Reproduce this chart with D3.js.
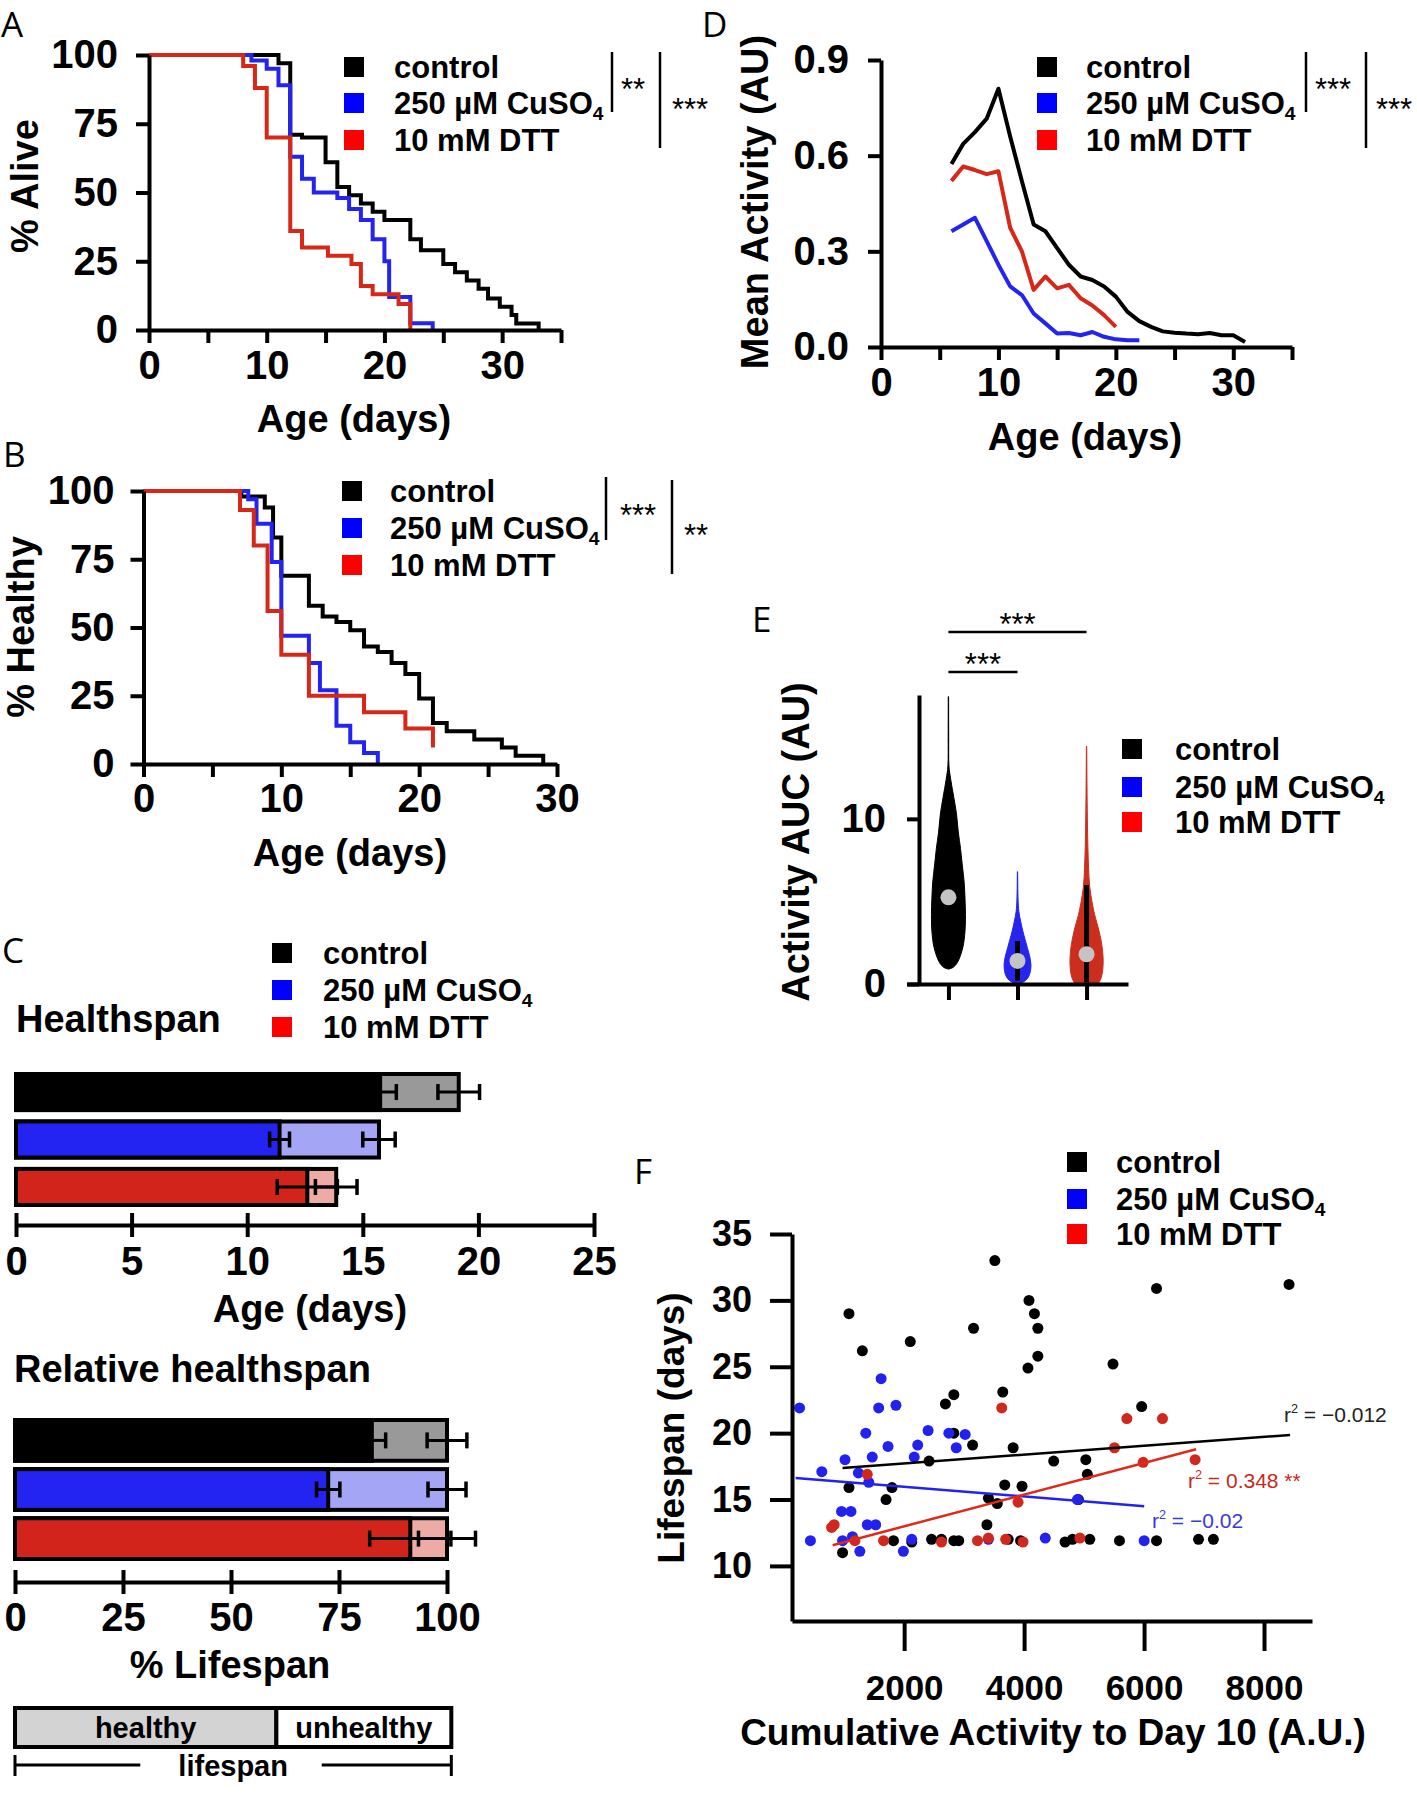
<!DOCTYPE html>
<html>
<head>
<meta charset="utf-8">
<script src="https://cdn.jsdelivr.net/npm/d3@7"></script>
<style>
  body { margin: 0; background: #fff; }
</style>
</head>
<body>
<div id="container"></div>
<script>
let w = 1417;
let h = 1800;

// groups + colours
let groups = ["control", "250 µM CuSO4", "10 mM DTT"];
let legendColors = ["#000000", "#0000ff", "#ff0000"];
let lineColors = ["#000000", "#2424f0", "#d62818"];
let darkBar = ["#000000", "#2323f2", "#d2241a"];
let lightBar = ["#999999", "#a5a5f5", "#eeaaa5"];

// A: % alive  [day, %]
let aliveControl = [[0,100],[11,97],[12,71],[13,70],[15,61],[16,52],[17,49],[18,46],[19,43],[20,40],[22.2,33],[23.1,29],[25,24],[26,21],[27,18],[28,15],[28.8,11.5],[29.8,8.5],[30.8,5.5],[31.2,2.4],[33.1,0]];
let aliveCu = [[0,100],[8.7,98],[10,95],[11,89],[12,63],[13,55],[14,50],[16,48],[17,44],[18,40],[19,33],[20,25],[20.4,12],[22.2,2.5],[24.1,0]];
let aliveDtt = [[0,100],[8,96],[9,88],[10,70],[12,36],[13,30],[15.2,27],[17.2,24],[18,16],[19,13],[21.2,9.5],[22.2,0]];

// B: % healthy  [day, %]
let healthyControl = [[0,100],[7.1,98],[8.8,94],[9.4,83],[10,69],[12,58],[13,54],[14,52],[15,49],[16,43],[17,41],[18,37],[19,33],[20,24],[21,15],[22,12],[24,9],[26,6],[27,3],[29,0]];
let healthyCu = [[0,100],[7.6,97],[8.2,88],[9.3,74],[10,47],[12,37],[12.8,27],[14,14],[15,8],[16,4],[17,0]];
let healthyDtt = [[0,100],[7,93],[8,80],[9,56],[10,40],[12,25],[16,19],[19,13],[21,6]];

// C: healthspan / lifespan (days) and relative (% lifespan)
let healthspan = [15.75, 11.4, 12.6];
let healthspanSem = [0.7, 0.43, 1.3];
let lifespan = [19.15, 15.7, 13.85];
let lifespanSem = [0.9, 0.7, 0.9];
let relHealthy = [82.6, 72.5, 91.5];
let relHealthySem = [3.2, 2.7, 9.4];
let relLifespan = [100, 100, 100];
let relLifespanSem = [4.6, 4.4, 6.6];
let schematicSplit = 60.5;

// D: mean activity by day
let actDaysControl = [6,7,8,9,10,11,12,13,14,15,16,17,18,19,20,21,22,23,24,25,26,27,28,29,30,31];
let actControl = [0.574,0.637,0.674,0.716,0.81,0.66,0.52,0.384,0.363,0.31,0.258,0.221,0.21,0.19,0.158,0.11,0.081,0.063,0.049,0.045,0.042,0.04,0.044,0.037,0.037,0.016];
let actDaysCu = [6,7,8,9,10,11,12,13,14,15,16,17,18,19,20,21,22];
let actCu = [0.363,0.384,0.405,0.332,0.258,0.19,0.163,0.105,0.074,0.042,0.044,0.037,0.047,0.032,0.024,0.021,0.021];
let actDaysDtt = [6,7,8,9,10,11,12,13,14,15,16,17,18,19,20];
let actDtt = [0.521,0.566,0.555,0.542,0.551,0.374,0.30,0.179,0.221,0.184,0.195,0.153,0.13,0.10,0.063];

// E: violin outlines [AUC, half width], inner box, medians
let violinControl = [[0.9,0],[1.0,10],[1.3,20],[2.2,32],[3.2,37],[4.2,38],[5.2,37],[6.2,35],[7.2,31],[8.2,27],[9.2,22],[10.3,18],[11.3,12],[12.4,5],[13.2,1.2],[15,0.6],[17.4,0.4]];
let violinCu = [[0,0],[0.1,12],[0.4,24],[0.8,29],[1.2,30],[1.7,27],[2.2,22],[2.7,17],[3.2,12],[3.8,7],[4.4,3],[5.2,1.2],[6.8,0.4]];
let violinDtt = [[0,26],[0.4,33],[1.2,37],[2.2,35],[3.2,28],[4.2,18],[5,12],[5.9,7],[7,4.5],[8.3,3],[10,1.8],[12,1],[14.4,0.4]];
let boxLow = [1.5, 0.2, 0.1];
let boxHigh = [7.5, 2.6, 6.0];
let medians = [5.25, 1.4, 1.8];

// F: cumulative activity vs lifespan
let fControlX = [3512,6208,8417,1080,4081,4172,4229,3157,2102,1303,4229,4064,5482,3644,2828,2688,5960,2828,3141,3817,2415,4493,5029,5054,1080,1797,1698,3677,3965,3405,3553,4905,3380,973,1822,2127,2457,2622,2828,2910,3735,3941,4683,4806,5095,5590,6208,6908,7156];
let fControlY = [33.0,30.9,31.2,29.0,30.0,29.0,27.9,27.9,26.9,26.2,25.8,24.9,25.2,23.1,22.9,22.2,22.0,20.0,19.1,18.9,17.9,17.9,18.0,16.9,15.9,15.9,15.0,16.1,16.0,15.1,14.7,15.0,13.1,11.0,11.9,11.8,12.0,12.0,11.9,11.9,12.0,11.9,11.8,12.0,12.0,11.9,11.9,12.0,12.0];
let fCuX = [256,1616,1575,1863,1360,1731,2399,2745,3017,2226,2869,1014,1468,2168,627,1237,1410,956,1113,1385,1525,4889,437,973,1138,2127,3405,4353,6002,1261,1987];
let fCuY = [21.9,24.1,21.9,22.1,20.0,19.0,20.2,20.0,19.9,19.1,18.9,18.0,18.2,18.2,17.1,17.0,16.3,14.1,14.1,13.1,13.1,15.0,11.9,11.9,12.2,12.0,12.0,12.1,11.9,11.1,11.1];
let fDttX = [3627,5713,6307,5507,5985,6851,1385,3899,833,791,1179,1657,2622,3223,3405,3693,3982,4930];
let fDttY = [21.9,21.1,21.1,18.9,17.8,18.0,16.9,14.8,13.1,12.9,11.9,11.9,11.8,11.9,12.1,12.0,11.8,12.1];
let fitSlope = [0.000334, -0.000365, 0.001193];
let fitIntercept = [17.045, 16.69, 10.596];
let fitFrom = [973, 190, 808];
let fitTo = [8434, 6002, 6867];
let fitLabels = ["= \u22120.012", "= \u22120.02", "= 0.348 **"];
let fitLabelColors = ["#222222", "#3a3ad8", "#c8281c"];

let fontMain = "'Liberation Sans', Arial, Helvetica, sans-serif";
let fontLetter = "'Open Sans', 'DejaVu Sans', sans-serif";
let tickFont = 40;
let titleFont = 38;
let legendFont = 31;

let svg = d3.select("#container")
  .append("svg")
    .attr("width", w)
    .attr("height", h)
    .style("background", "#fff")
;

function styleAxis(g, size){
  g.attr("font-family", null).attr("font-size", null);
  g.select(".domain").attr("stroke", "#000").attr("stroke-width", 4);
  g.selectAll(".tick line").attr("stroke", "#000").attr("stroke-width", 4);
  g.selectAll(".tick text")
    .attr("fill", "#000")
    .attr("font-family", fontMain)
    .attr("font-weight", "bold")
    .attr("font-size", size);
}

function addText(str, x, y, size, opts){
  opts = opts || {};
  let t = svg.append("text")
    .attr("x", x).attr("y", y)
    .attr("font-family", opts.family || fontMain)
    .attr("font-weight", opts.weight || "bold")
    .attr("font-size", size)
    .attr("fill", opts.fill || "#000")
    .attr("text-anchor", opts.anchor || "start")
    .text(str);
  return t;
}

function addRotText(str, x, y, size){
  svg.append("text")
    .attr("transform", "translate(" + x + "," + y + ") rotate(-90)")
    .attr("font-family", fontMain)
    .attr("font-weight", "bold")
    .attr("font-size", size)
    .attr("text-anchor", "middle")
    .text(str);
}

function panelLetter(str, x, y){
  addText(str, x, y, 35, {family: fontLetter, weight: "normal"});
}

function legendLabel(sel, name){
  if (name.endsWith("SO4")) {
    sel.text(name.slice(0, -1));
    sel.append("tspan").attr("font-size", "0.62em").attr("dy", "0.3em").text("4");
  } else {
    sel.text(name);
  }
}

function drawLegend(cx, textX, ys, size){
  groups.forEach(function(name, i){
    svg.append("rect")
      .attr("x", cx - 10).attr("y", ys[i] - 10)
      .attr("width", 20).attr("height", 20)
      .attr("fill", legendColors[i]);
    let t = svg.append("text")
      .attr("x", textX).attr("y", ys[i] + 11)
      .attr("font-family", fontMain)
      .attr("font-weight", "bold")
      .attr("font-size", size);
    legendLabel(t, name);
  });
}

function sigBar(x, y1, y2, stars, tx, ty){
  svg.append("line")
    .attr("x1", x).attr("x2", x).attr("y1", y1).attr("y2", y2)
    .attr("stroke", "#000").attr("stroke-width", 2.5);
  addText(stars, tx, ty, 31, {anchor: "middle", weight: "normal"});
}

function stepLines(xs, ys, series){
  let line = d3.line()
    .x(function(d){ return xs(d[0]); })
    .y(function(d){ return ys(d[1]); })
    .curve(d3.curveStepAfter);
  series.forEach(function(s, i){
    svg.append("path").datum(s)
      .attr("d", line)
      .attr("fill", "none")
      .attr("stroke", lineColors[i])
      .attr("stroke-width", 4);
  });
}

// ---------------- Panel A ----------------
let xA = d3.scaleLinear().domain([0, 35]).range([149, 561]);
let yA = d3.scaleLinear().domain([0, 100]).range([330, 55]);
stepLines(xA, yA, [aliveControl, aliveCu, aliveDtt]);

let xAxisA = svg.append("g").attr("transform", "translate(0,330)")
  .call(d3.axisBottom(xA).tickValues([0,5,10,15,20,25,30,35])
    .tickFormat(function(d){ return d % 10 === 0 ? d : ""; })
    .tickSize(13).tickSizeOuter(0).tickPadding(8));
styleAxis(xAxisA, tickFont);
let yAxisA = svg.append("g").attr("transform", "translate(149,0)")
  .call(d3.axisLeft(yA).tickValues([0,25,50,75,100]).tickSize(13).tickSizeOuter(0).tickPadding(18));
styleAxis(yAxisA, tickFont);

panelLetter("A", 1, 37);
addText("Age (days)", 354, 432, titleFont, {anchor: "middle"});
addRotText("% Alive", 38, 186, titleFont);
drawLegend(354, 394, [67, 103, 140], legendFont);
sigBar(612, 52, 112, "**", 633, 100);
sigBar(660, 52, 148, "***", 690, 120);

// ---------------- Panel B ----------------
let xB = d3.scaleLinear().domain([0, 30]).range([143.5, 557]);
let yB = d3.scaleLinear().domain([0, 100]).range([764, 491]);
stepLines(xB, yB, [healthyControl, healthyCu, healthyDtt]);

let xAxisB = svg.append("g").attr("transform", "translate(0,764)")
  .call(d3.axisBottom(xB).tickValues([0,5,10,15,20,25,30])
    .tickFormat(function(d){ return d % 10 === 0 ? d : ""; })
    .tickSize(13).tickSizeOuter(0).tickPadding(7));
styleAxis(xAxisB, tickFont);
let yAxisB = svg.append("g").attr("transform", "translate(143.5,0)")
  .call(d3.axisLeft(yB).tickValues([0,25,50,75,100]).tickSize(13).tickSizeOuter(0).tickPadding(16));
styleAxis(yAxisB, tickFont);

panelLetter("B", 3, 467);
addText("Age (days)", 350, 866, titleFont, {anchor: "middle"});
addRotText("% Healthy", 34, 627, titleFont);
drawLegend(352, 390, [491, 528, 565], legendFont);
sigBar(606, 477, 540, "***", 638, 526);
sigBar(672, 480, 574, "**", 696, 546);

// ---------------- Panel C ----------------
function errBar(x1, x2, cy){
  svg.append("line").attr("x1", x1).attr("x2", x2).attr("y1", cy).attr("y2", cy)
    .attr("stroke", "#000").attr("stroke-width", 3);
  [x1, x2].forEach(function(x){
    svg.append("line").attr("x1", x).attr("x2", x).attr("y1", cy - 8).attr("y2", cy + 8)
      .attr("stroke", "#000").attr("stroke-width", 3.5);
  });
}

function spanBars(xs, ys, healthy, healthySem, life, lifeSem){
  groups.forEach(function(name, i){
    let y0 = ys(name);
    let bw = ys.bandwidth();
    svg.append("rect")
      .attr("x", xs(0)).attr("y", y0)
      .attr("width", xs(life[i]) - xs(0)).attr("height", bw)
      .attr("fill", lightBar[i]).attr("stroke", "#000").attr("stroke-width", 4);
    svg.append("rect")
      .attr("x", xs(0)).attr("y", y0)
      .attr("width", xs(healthy[i]) - xs(0)).attr("height", bw)
      .attr("fill", darkBar[i]).attr("stroke", "#000").attr("stroke-width", 4);
    errBar(xs(healthy[i] - healthySem[i]), xs(healthy[i] + healthySem[i]), y0 + bw / 2);
    errBar(xs(life[i] - lifeSem[i]), xs(life[i] + lifeSem[i]), y0 + bw / 2);
  });
}

let xC = d3.scaleLinear().domain([0, 25]).range([16, 594]);
let yC = d3.scaleBand().domain(groups).range([1074, 1205]).paddingInner(0.24);
spanBars(xC, yC, healthspan, healthspanSem, lifespan, lifespanSem);
let xAxisC = svg.append("g").attr("transform", "translate(0,1225)")
  .call(d3.axisBottom(xC).tickValues([0,5,10,15,20,25]).tickSize(12).tickSizeOuter(0).tickPadding(10));
styleAxis(xAxisC, tickFont);
xAxisC.selectAll(".tick line").attr("y1", -12);

panelLetter("C", 2, 963);
drawLegend(282, 323, [953, 990, 1027], legendFont);
addText("Healthspan", 16, 1032, titleFont);
addText("Age (days)", 310, 1322, titleFont, {anchor: "middle"});

let xR = d3.scaleLinear().domain([0, 100]).range([15, 447]);
let yR = d3.scaleBand().domain(groups).range([1420, 1559]).paddingInner(0.17);
spanBars(xR, yR, relHealthy, relHealthySem, relLifespan, relLifespanSem);
let xAxisR = svg.append("g").attr("transform", "translate(0,1582)")
  .call(d3.axisBottom(xR).tickValues([0,25,50,75,100]).tickSize(12).tickSizeOuter(0).tickPadding(9));
styleAxis(xAxisR, tickFont);
xAxisR.selectAll(".tick line").attr("y1", -12);

addText("Relative healthspan", 14, 1382, titleFont);
addText("% Lifespan", 230, 1678, titleFont, {anchor: "middle"});

// schematic legend healthy / unhealthy
svg.append("rect").attr("x", xR(0)).attr("y", 1708)
  .attr("width", xR(schematicSplit) - xR(0)).attr("height", 39)
  .attr("fill", "#d3d3d3").attr("stroke", "#000").attr("stroke-width", 4);
svg.append("rect").attr("x", xR(schematicSplit)).attr("y", 1708)
  .attr("width", xR(101) - xR(schematicSplit)).attr("height", 39)
  .attr("fill", "#fff").attr("stroke", "#000").attr("stroke-width", 4);
addText("healthy", (xR(0) + xR(schematicSplit)) / 2, 1738, 29, {anchor: "middle"});
addText("unhealthy", (xR(schematicSplit) + xR(101)) / 2, 1738, 29, {anchor: "middle"});
[[xR(0), xR(29)], [xR(71), xR(101)]].forEach(function(seg){
  svg.append("line").attr("x1", seg[0]).attr("x2", seg[1]).attr("y1", 1765).attr("y2", 1765)
    .attr("stroke", "#000").attr("stroke-width", 3);
});
[xR(0), xR(101)].forEach(function(x){
  svg.append("line").attr("x1", x).attr("x2", x).attr("y1", 1755).attr("y2", 1776)
    .attr("stroke", "#000").attr("stroke-width", 3);
});
addText("lifespan", (xR(0) + xR(101)) / 2, 1776, 29, {anchor: "middle"});

// ---------------- Panel D ----------------
let xD = d3.scaleLinear().domain([0, 35]).range([881, 1292]);
let yD = d3.scaleLinear().domain([0, 0.9]).range([347, 60]);
let lineD = d3.line()
  .x(function(d){ return xD(d[0]); })
  .y(function(d){ return yD(d[1]); });
[[actDaysControl, actControl], [actDaysCu, actCu], [actDaysDtt, actDtt]].forEach(function(s, i){
  svg.append("path").datum(d3.zip(s[0], s[1]))
    .attr("d", lineD)
    .attr("fill", "none")
    .attr("stroke", lineColors[i])
    .attr("stroke-width", 4)
    .attr("stroke-linejoin", "round");
});
let xAxisD = svg.append("g").attr("transform", "translate(0,347)")
  .call(d3.axisBottom(xD).tickValues([0,5,10,15,20,25,30,35])
    .tickFormat(function(d){ return d % 10 === 0 ? d : ""; })
    .tickSize(13).tickSizeOuter(0).tickPadding(8));
styleAxis(xAxisD, tickFont);
let yAxisD = svg.append("g").attr("transform", "translate(881,0)")
  .call(d3.axisLeft(yD).tickValues([0, 0.3, 0.6, 0.9]).tickFormat(d3.format(".1f"))
    .tickSize(13).tickSizeOuter(0).tickPadding(19));
styleAxis(yAxisD, tickFont);

panelLetter("D", 702, 37);
addText("Age (days)", 1085, 450, titleFont, {anchor: "middle"});
addRotText("Mean Activity (AU)", 768, 202, titleFont);
drawLegend(1047, 1086, [67, 103, 140], legendFont);
sigBar(1306, 52, 112, "***", 1333, 100);
sigBar(1366, 52, 148, "***", 1394, 120);

// ---------------- Panel E ----------------
let xE = d3.scalePoint().domain(groups).range([907, 1128]).padding(0.6);
let yE = d3.scaleLinear().domain([0, 17.5]).range([984, 695]);
let wE = d3.scaleLinear().domain([0, 38]).range([0, 17]);
let violinColors = ["#000000", "#2525ee", "#cc2e1e"];

[violinControl, violinCu, violinDtt].forEach(function(v, i){
  let cx = xE(groups[i]);
  let area = d3.area()
    .y(function(d){ return yE(d[0]); })
    .x0(function(d){ return cx - wE(d[1]); })
    .x1(function(d){ return cx + wE(d[1]); })
    .curve(d3.curveCatmullRom);
  svg.append("path").datum(v)
    .attr("d", area)
    .attr("fill", violinColors[i])
    .attr("stroke", violinColors[i])
    .attr("stroke-width", 1);
  svg.append("line")
    .attr("x1", cx).attr("x2", cx)
    .attr("y1", yE(boxLow[i])).attr("y2", yE(boxHigh[i]))
    .attr("stroke", "#000").attr("stroke-width", 5);
  svg.append("circle")
    .attr("cx", cx).attr("cy", yE(medians[i])).attr("r", 8)
    .attr("fill", "#c4c4c4");
});

let xAxisE = svg.append("g").attr("transform", "translate(0,984)")
  .call(d3.axisBottom(xE).tickFormat("").tickSize(16).tickSizeOuter(0));
styleAxis(xAxisE, tickFont);
let yAxisE = svg.append("g").attr("transform", "translate(919,0)")
  .call(d3.axisLeft(yE).tickValues([0, 10]).tickSize(12).tickSizeOuter(0).tickPadding(21));
styleAxis(yAxisE, tickFont);

panelLetter("E", 752, 632);
addRotText("Activity AUC (AU)", 809, 842, titleFont);
drawLegend(1132, 1175, [749, 787, 822], legendFont);
[[groups[0], groups[2], 632], [groups[0], groups[1], 672]].forEach(function(s){
  svg.append("line")
    .attr("x1", xE(s[0])).attr("x2", xE(s[1]))
    .attr("y1", s[2]).attr("y2", s[2])
    .attr("stroke", "#000").attr("stroke-width", 2.5);
  addText("***", (xE(s[0]) + xE(s[1])) / 2, s[2] + 3, 31, {anchor: "middle", weight: "normal"});
});

// ---------------- Panel F ----------------
let xF = d3.scaleLinear().domain([130, 8800]).range([792, 1312]);
let yF = d3.scaleLinear().domain([5.85, 35]).range([1621, 1234]);
let scatterColors = ["#000000", "#2222f0", "#d0281c"];

[[fControlX, fControlY], [fCuX, fCuY], [fDttX, fDttY]].forEach(function(s, i){
  svg.append("g").selectAll("circle")
    .data(d3.zip(s[0], s[1]))
    .enter()
    .append("circle")
      .attr("cx", function(d){ return xF(d[0]); })
      .attr("cy", function(d){ return yF(d[1]); })
      .attr("r", 5.5)
      .attr("fill", scatterColors[i]);
});

groups.forEach(function(name, i){
  svg.append("line")
    .attr("x1", xF(fitFrom[i])).attr("x2", xF(fitTo[i]))
    .attr("y1", yF(fitIntercept[i] + fitSlope[i] * fitFrom[i]))
    .attr("y2", yF(fitIntercept[i] + fitSlope[i] * fitTo[i]))
    .attr("stroke", i === 2 ? "#e02a18" : scatterColors[i])
    .attr("stroke-width", 2.5);
});

let fitLabelPos = [[1284, 1422], [1152, 1528], [1188, 1488]];
fitLabels.forEach(function(lbl, i){
  let t = svg.append("text")
    .attr("x", fitLabelPos[i][0]).attr("y", fitLabelPos[i][1])
    .attr("font-family", fontMain)
    .attr("font-size", 21)
    .attr("fill", fitLabelColors[i]);
  t.append("tspan").text("r");
  t.append("tspan").attr("font-size", "0.6em").attr("dy", "-0.7em").text("2");
  t.append("tspan").attr("dy", "0.42em").text(" " + lbl);
});

let xAxisF = svg.append("g").attr("transform", "translate(0,1621)")
  .call(d3.axisBottom(xF).tickValues([2000, 4000, 6000, 8000]).tickFormat(d3.format("d"))
    .tickSize(30).tickSizeOuter(0).tickPadding(24));
styleAxis(xAxisF, 35);
let yAxisF = svg.append("g").attr("transform", "translate(792,0)")
  .call(d3.axisLeft(yF).tickValues([10, 15, 20, 25, 30, 35]).tickSize(22).tickSizeOuter(0).tickPadding(18));
styleAxis(yAxisF, 36);

panelLetter("F", 634, 1184);
addText("Cumulative Activity to Day 10 (A.U.)", 1053, 1745, 37, {anchor: "middle"});
addRotText("Lifespan (days)", 684, 1428, 37);
drawLegend(1077, 1116, [1162, 1199, 1234], legendFont);
</script>
</body>
</html>
